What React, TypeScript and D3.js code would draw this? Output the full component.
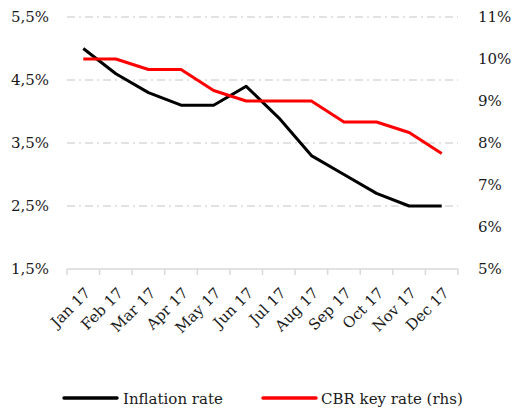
import * as d3 from "d3";

const months = ["Jan 17", "Feb 17", "Mar 17", "Apr 17", "May 17", "Jun 17", "Jul 17", "Aug 17", "Sep 17", "Oct 17", "Nov 17", "Dec 17"];
const inflation = [5.0, 4.6, 4.3, 4.1, 4.1, 4.4, 3.9, 3.3, 3.0, 2.7, 2.5, 2.5];
const keyRate = [10.0, 10.0, 9.75, 9.75, 9.25, 9.0, 9.0, 9.0, 8.5, 8.5, 8.25, 7.75];
const leftTicks = [1.5, 2.5, 3.5, 4.5, 5.5];
const rightTicks = [5, 6, 7, 8, 9, 10, 11];

const width = 515;
const height = 410;
const font = "'DejaVu Serif', serif";
const textColor = "#1a1a1a";

export default function App() {
  const x = d3.scaleBand<string>().domain(months).range([67, 458]);
  const yL = d3.scaleLinear().domain([1.5, 5.5]).range([269, 17]);
  const yR = d3.scaleLinear().domain([5, 11]).range([269, 17]);
  const cx = (i: number) => (x(months[i]) ?? 0) + x.bandwidth() / 2;

  const lineL = d3.line<number>().x((_, i) => cx(i)).y((d) => yL(d));
  const lineR = d3.line<number>().x((_, i) => cx(i)).y((d) => yR(d));
  const fmt = (v: number) => v.toFixed(1).replace(".", ",") + "%";

  return (
    <svg width={width} height={height} style={{ position: "absolute", left: 0, top: 0 }}>
      <rect width={width} height={height} fill="#fff" />
      {leftTicks.filter((t) => t > 1.5).map((t) => (
        <line key={t} x1={67} x2={458} y1={yL(t)} y2={yL(t)} stroke="#d9d9d9" strokeWidth={1.5} strokeDasharray="8,4,2,4" />
      ))}
      <line x1={67} x2={458} y1={269} y2={269} stroke="#d9d9d9" strokeWidth={1.5} />
      {d3.range(months.length + 1).map((i) => {
        const xx = 67 + i * x.bandwidth();
        return <line key={i} x1={xx} x2={xx} y1={269} y2={275} stroke="#d9d9d9" strokeWidth={1.5} />;
      })}
      {leftTicks.map((t) => (
        <text key={t} x={49} y={yL(t)} dy="0.35em" textAnchor="end" fontFamily={font} fontSize={15} fill={textColor}>{fmt(t)}</text>
      ))}
      {rightTicks.map((t) => (
        <text key={t} x={478} y={yR(t)} dy="0.35em" textAnchor="start" fontFamily={font} fontSize={15} fill={textColor}>{t}%</text>
      ))}
      {months.map((m, i) => (
        <text key={m} transform={`translate(${cx(i) + 8},${294}) rotate(-45)`} textAnchor="end" fontFamily={font} fontSize={15} fill={textColor}>{m}</text>
      ))}
      <path d={lineL(inflation) ?? ""} fill="none" stroke="#000" strokeWidth={3} strokeLinejoin="round" />
      <path d={lineR(keyRate) ?? ""} fill="none" stroke="#ff0000" strokeWidth={3} strokeLinejoin="round" />
      <line x1={64} x2={117} y1={398} y2={398} stroke="#000" strokeWidth={3.5} strokeLinecap="round" />
      <text x={123} y={404} fontFamily={font} fontSize={15} fill={textColor}>Inflation rate</text>
      <line x1={263} x2={316} y1={398} y2={398} stroke="#ff0000" strokeWidth={3.5} strokeLinecap="round" />
      <text x={321} y={404} fontFamily={font} fontSize={15} fill={textColor}>CBR key rate (rhs)</text>
    </svg>
  );
}
